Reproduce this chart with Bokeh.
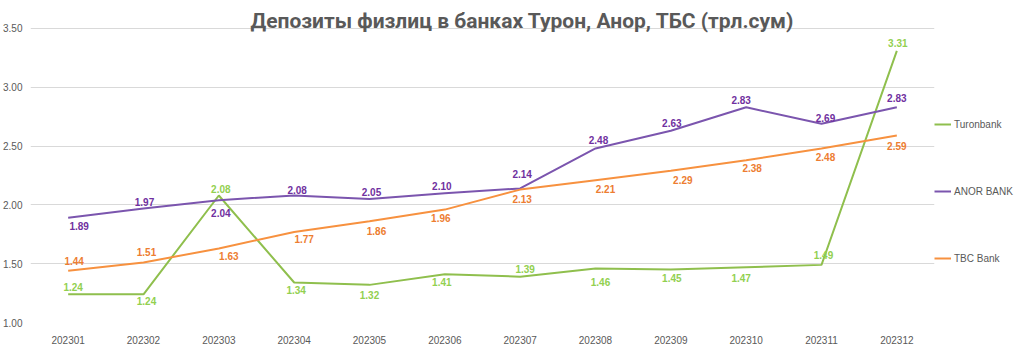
from bokeh.plotting import figure
from bokeh.models import (ColumnDataSource, FactorRange, Range1d, Legend, LegendItem,
                          Label, FixedTicker, NumeralTickFormatter)
from bokeh.core.properties import value
from bokeh.embed import file_html
from bokeh.resources import INLINE

months = ["202301", "202302", "202303", "202304", "202305", "202306",
          "202307", "202308", "202309", "202310", "202311", "202312"]
turon = [1.24, 1.24, 2.08, 1.34, 1.32, 1.41, 1.39, 1.46, 1.45, 1.47, 1.49, 3.31]
anor = [1.89, 1.97, 2.04, 2.08, 2.05, 2.10, 2.14, 2.48, 2.63, 2.83, 2.69, 2.83]
tbc = [1.44, 1.51, 1.63, 1.77, 1.86, 1.96, 2.13, 2.21, 2.29, 2.38, 2.48, 2.59]
series_names = ["Turonbank", "ANOR BANK", "TBC Bank"]
y_ticks = [1.0, 1.5, 2.0, 2.5, 3.0, 3.5]
title_text = "Депозиты физлиц в банках Турон, Анор, ТБС (трл.сум)"

# label offsets in screen pixels (dx, dy; dy positive = downward on screen)
turon_dx = [5, 3, 2, 2, 0, -3, 5, 5, 1, -5, 2, 1]
turon_dy = [-7, 7, -6, 7, 10, 8, -8, 14, 8, 11, -10, -8]
anor_dx = [11, 1, 2, 3, 2, -3, 2, 3, 1, -5, 4, 0]
anor_dy = [8, -6, 13, -5, -7, -7, -14, -8, -8, -7.5, -6, -9]
tbc_dx = [6, 3, 10, 10, 7, -4, 2, 10, 12, 6, 4, 0]
tbc_dy = [-10, -11, 8, 7, 10, 8, 9, 9, 9, 8, 9, 10]

line_colors = ["#8FBF4D", "#7B55AE", "#F7913F"]
label_colors = ["#92D050", "#7030A0", "#ED7D31"]

p = figure(frame_width=904, frame_height=314, x_range=FactorRange(*months),
           y_range=Range1d(1.0, 3.67), output_backend="svg", toolbar_location=None,
           min_border_left=21, min_border_right=0, min_border_top=8, min_border_bottom=25)
p.outline_line_color = None
p.background_fill_color = "white"

p.xgrid.grid_line_color = None
p.ygrid.grid_line_color = "#D9D9D9"
p.ygrid.grid_line_width = 1
p.yaxis.ticker = FixedTicker(ticks=y_ticks)
p.yaxis.formatter = NumeralTickFormatter(format="0.00")
for ax in (p.xaxis[0], p.yaxis[0]):
    ax.axis_line_color = None
    ax.major_tick_line_color = None
    ax.minor_tick_line_color = None
    ax.major_label_text_color = "#595959"
    ax.major_label_text_font = "Liberation Sans"
    ax.major_label_text_font_size = "10px"
p.yaxis.major_label_standoff = 2
p.xaxis.major_label_standoff = 7

label_font = value("'Liberation Sans Narrow', 'Liberation Sans'")
items = []
for name, vals, dx, dy, lc, tc in zip(series_names, [turon, anor, tbc],
                                      [turon_dx, anor_dx, tbc_dx],
                                      [turon_dy, anor_dy, tbc_dy],
                                      line_colors, label_colors):
    src = ColumnDataSource(dict(x=months, y=vals, t=["%.2f" % v for v in vals],
                                dx=dx, dy=dy))
    r = p.line("x", "y", source=src, line_color=lc, line_width=2)
    p.text("x", "y", text="t", source=src, x_offset="dx", y_offset="dy",
           text_align="center", text_baseline="middle", text_color=tc,
           text_font=label_font, text_font_style="bold", text_font_size="10px")
    items.append(LegendItem(label=name, renderers=[r]))

legend = Legend(items=items, location=(0, 57), orientation="vertical",
                padding=0, margin=0, spacing=53, glyph_width=17, glyph_height=14,
                label_height=14, label_standoff=3, border_line_color=None,
                background_fill_alpha=0, label_text_font="Liberation Sans",
                label_text_font_size="10px", label_text_color="#595959")
p.add_layout(legend, "right")

title = Label(x=492, y=302, x_units="screen", y_units="screen", text=title_text,
              text_align="center", text_baseline="middle", text_font="Roboto",
              text_font_style="bold", text_font_size="21px", text_color="#595959")
p.add_layout(title)

open("out.html", "w").write(file_html(p, INLINE))
